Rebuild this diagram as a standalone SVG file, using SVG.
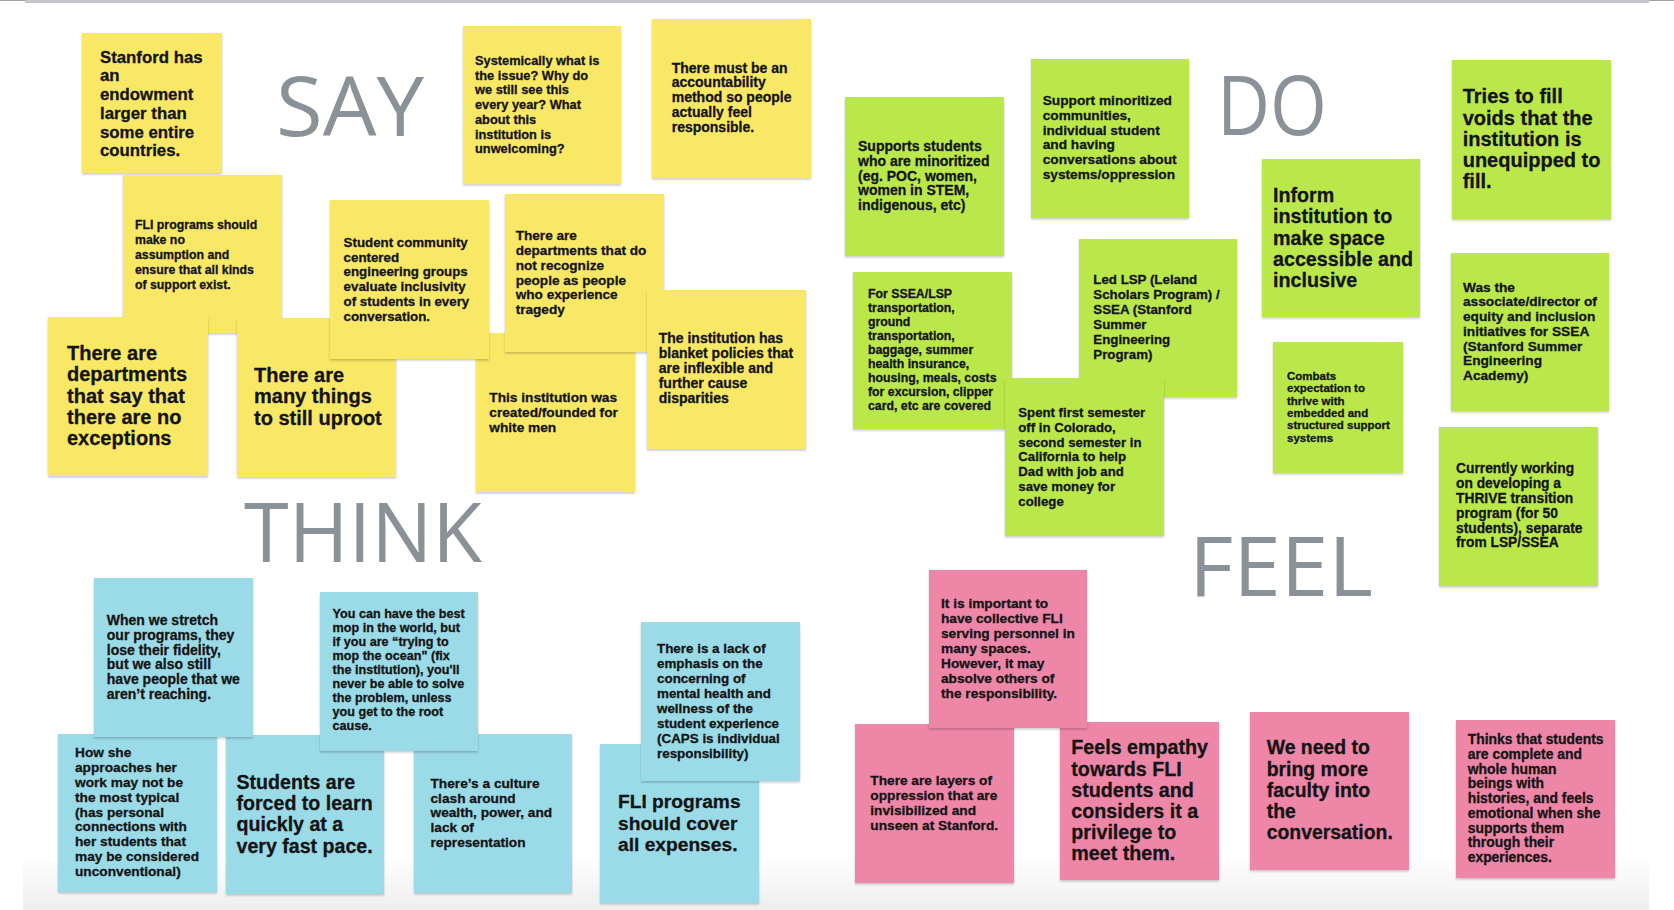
<svg xmlns="http://www.w3.org/2000/svg" width="1674" height="910" viewBox="0 0 1674 910">
  <defs>
    <filter id="sh" x="-5%" y="-5%" width="110%" height="115%">
      <feDropShadow dx="0" dy="1.5" stdDeviation="1.2" flood-color="#000" flood-opacity="0.22"/>
    </filter>
    <linearGradient id="floor" x1="0" y1="0" x2="0" y2="1">
      <stop offset="0" stop-color="#ffffff"/>
      <stop offset="1" stop-color="#eeeeee"/>
    </linearGradient>
    <style>
      .y { fill: #f9e866; filter: url(#sh); }
      .g { fill: #bae84b; filter: url(#sh); }
      .b { fill: #9bdbe8; filter: url(#sh); }
      .p { fill: #ee86a8; filter: url(#sh); }
      .t { font-family: "Liberation Sans", Arial, sans-serif; font-weight: 700; fill: #141414; stroke: #141414; stroke-width: 0.3px; }
      .h { font-family: "Open Sans", "Liberation Sans", sans-serif; font-weight: 400; fill: #8b9198; font-size: 83px; }
    </style>
  </defs>

  <!-- board background -->
  <rect x="0" y="0" width="1674" height="910" fill="#ffffff"/>
  <rect x="23" y="855" width="1626" height="55" fill="url(#floor)"/>
  <rect x="0" y="0" width="1674" height="1" fill="#9aa0a6"/>
  <rect x="25" y="0" width="1624" height="3" fill="#c3c7cc"/>

  <!-- quadrant headings -->
  <g id="headings">
    <text class="h" x="276" y="136" textLength="148" lengthAdjust="spacingAndGlyphs">SAY</text>
    <text class="h" x="1217" y="135" textLength="110" lengthAdjust="spacingAndGlyphs">DO</text>
    <text class="h" x="244" y="562" textLength="238" lengthAdjust="spacingAndGlyphs">THINK</text>
    <text class="h" x="1189" y="596" textLength="184" lengthAdjust="spacingAndGlyphs">FEEL</text>
  </g>

  <!-- SAY (yellow) -->
  <g id="say-1"><rect class="y" x="82" y="33" width="140" height="140"/>
    <text class="t" font-size="16.8" x="100" y="62.7"><tspan>Stanford has</tspan><tspan x="100" dy="18.7">an</tspan><tspan x="100" dy="18.7">endowment</tspan><tspan x="100" dy="18.7">larger than</tspan><tspan x="100" dy="18.7">some entire</tspan><tspan x="100" dy="18.7">countries.</tspan></text></g>
  <g id="say-2"><rect class="y" x="123" y="175" width="159" height="158"/>
    <text class="t" font-size="12.3" x="135" y="229.3"><tspan>FLI programs should</tspan><tspan x="135" dy="15">make no</tspan><tspan x="135" dy="15">assumption and</tspan><tspan x="135" dy="15">ensure that all kinds</tspan><tspan x="135" dy="15">of support exist.</tspan></text></g>
  <g id="say-3"><rect class="y" x="463" y="26" width="158" height="158"/>
    <text class="t" font-size="12.8" x="475" y="65"><tspan>Systemically what is</tspan><tspan x="475" dy="14.7">the issue? Why do</tspan><tspan x="475" dy="14.7">we still see this</tspan><tspan x="475" dy="14.7">every year? What</tspan><tspan x="475" dy="14.7">about this</tspan><tspan x="475" dy="14.7">institution is</tspan><tspan x="475" dy="14.7">unwelcoming?</tspan></text></g>
  <g id="say-4"><rect class="y" x="652" y="19" width="159" height="159"/>
    <text class="t" font-size="14" x="671.7" y="72.7"><tspan>There must be an</tspan><tspan x="671.7" dy="14.75">accountability</tspan><tspan x="671.7" dy="14.75">method so people</tspan><tspan x="671.7" dy="14.75">actually feel</tspan><tspan x="671.7" dy="14.75">responsible.</tspan></text></g>
  <g id="say-9"><rect class="y" x="476" y="333" width="159" height="159"/>
    <text class="t" font-size="13.7" x="489.3" y="401.7"><tspan>This institution was</tspan><tspan x="489.3" dy="15">created/founded for</tspan><tspan x="489.3" dy="15">white men</tspan></text></g>
  <g id="say-6"><rect class="y" x="505" y="194" width="159" height="158"/>
    <text class="t" font-size="13.6" x="515.7" y="240"><tspan>There are</tspan><tspan x="515.7" dy="14.87">departments that do</tspan><tspan x="515.7" dy="14.87">not recognize</tspan><tspan x="515.7" dy="14.87">people as people</tspan><tspan x="515.7" dy="14.87">who experience</tspan><tspan x="515.7" dy="14.87">tragedy</tspan></text></g>
  <g id="say-10"><rect class="y" x="647" y="290" width="159" height="159"/>
    <text class="t" font-size="14" x="658.7" y="343.3"><tspan>The institution has</tspan><tspan x="658.7" dy="14.85">blanket policies that</tspan><tspan x="658.7" dy="14.85">are inflexible and</tspan><tspan x="658.7" dy="14.85">further cause</tspan><tspan x="658.7" dy="14.85">disparities</tspan></text></g>
  <g id="say-8"><rect class="y" x="237" y="318" width="159" height="159"/>
    <text class="t" font-size="20" x="254" y="382"><tspan>There are</tspan><tspan x="254" dy="21.3">many things</tspan><tspan x="254" dy="21.3">to still uproot</tspan></text></g>
  <g id="say-5"><rect class="y" x="330" y="200" width="159" height="159"/>
    <text class="t" font-size="13.3" x="343.6" y="246.7"><tspan>Student community</tspan><tspan x="343.6" dy="14.8">centered</tspan><tspan x="343.6" dy="14.8">engineering groups</tspan><tspan x="343.6" dy="14.8">evaluate inclusivity</tspan><tspan x="343.6" dy="14.8">of students in every</tspan><tspan x="343.6" dy="14.8">conversation.</tspan></text></g>
  <g id="say-7"><rect class="y" x="48" y="317" width="160" height="159"/>
    <text class="t" font-size="20" x="67" y="360"><tspan>There are</tspan><tspan x="67" dy="21.25">departments</tspan><tspan x="67" dy="21.25">that say that</tspan><tspan x="67" dy="21.25">there are no</tspan><tspan x="67" dy="21.25">exceptions</tspan></text></g>

  <!-- DO (green) -->
  <g id="do-1"><rect class="g" x="845" y="97" width="159" height="159"/>
    <text class="t" font-size="14" x="858" y="150.7"><tspan>Supports students</tspan><tspan x="858" dy="14.9">who are minoritized</tspan><tspan x="858" dy="14.9">(eg. POC, women,</tspan><tspan x="858" dy="14.9">women in STEM,</tspan><tspan x="858" dy="14.9">indigenous, etc)</tspan></text></g>
  <g id="do-2"><rect class="g" x="1031" y="59" width="158" height="159"/>
    <text class="t" font-size="13.7" x="1042.7" y="104.7"><tspan>Support minoritized</tspan><tspan x="1042.7" dy="14.9">communities,</tspan><tspan x="1042.7" dy="14.9">individual student</tspan><tspan x="1042.7" dy="14.9">and having</tspan><tspan x="1042.7" dy="14.9">conversations about</tspan><tspan x="1042.7" dy="14.9">systems/oppression</tspan></text></g>
  <g id="do-3"><rect class="g" x="853" y="272" width="159" height="157"/>
    <text class="t" font-size="12.3" x="868" y="298.3"><tspan>For SSEA/LSP</tspan><tspan x="868" dy="13.9">transportation,</tspan><tspan x="868" dy="13.9">ground</tspan><tspan x="868" dy="13.9">transportation,</tspan><tspan x="868" dy="13.9">baggage, summer</tspan><tspan x="868" dy="13.9">health insurance,</tspan><tspan x="868" dy="13.9">housing, meals, costs</tspan><tspan x="868" dy="13.9">for excursion, clipper</tspan><tspan x="868" dy="13.9">card, etc are covered</tspan></text></g>
  <g id="do-4"><rect class="g" x="1079" y="239" width="158" height="158"/>
    <text class="t" font-size="13.3" x="1093.3" y="284.3"><tspan>Led LSP (Leland</tspan><tspan x="1093.3" dy="14.9">Scholars Program) /</tspan><tspan x="1093.3" dy="14.9">SSEA (Stanford</tspan><tspan x="1093.3" dy="14.9">Summer</tspan><tspan x="1093.3" dy="14.9">Engineering</tspan><tspan x="1093.3" dy="14.9">Program)</tspan></text></g>
  <g id="do-5"><rect class="g" x="1005" y="378" width="159" height="158"/>
    <text class="t" font-size="13.2" x="1018.3" y="416.7"><tspan>Spent first semester</tspan><tspan x="1018.3" dy="14.9">off in Colorado,</tspan><tspan x="1018.3" dy="14.9">second semester in</tspan><tspan x="1018.3" dy="14.9">California to help</tspan><tspan x="1018.3" dy="14.9">Dad with job and</tspan><tspan x="1018.3" dy="14.9">save money for</tspan><tspan x="1018.3" dy="14.9">college</tspan></text></g>
  <g id="do-6"><rect class="g" x="1262" y="159" width="158" height="158"/>
    <text class="t" font-size="19.7" x="1273" y="202"><tspan>Inform</tspan><tspan x="1273" dy="21.3">institution to</tspan><tspan x="1273" dy="21.3">make space</tspan><tspan x="1273" dy="21.3">accessible and</tspan><tspan x="1273" dy="21.3">inclusive</tspan></text></g>
  <g id="do-7"><rect class="g" x="1452" y="60" width="159" height="159"/>
    <text class="t" font-size="20" x="1462.7" y="103.3"><tspan>Tries to fill</tspan><tspan x="1462.7" dy="21.2">voids that the</tspan><tspan x="1462.7" dy="21.2">institution is</tspan><tspan x="1462.7" dy="21.2">unequipped to</tspan><tspan x="1462.7" dy="21.2">fill.</tspan></text></g>
  <g id="do-8"><rect class="g" x="1451" y="253" width="158" height="158"/>
    <text class="t" font-size="13.7" x="1463" y="291.7"><tspan>Was the</tspan><tspan x="1463" dy="14.7">associate/director of</tspan><tspan x="1463" dy="14.7">equity and inclusion</tspan><tspan x="1463" dy="14.7">initiatives for SSEA</tspan><tspan x="1463" dy="14.7">(Stanford Summer</tspan><tspan x="1463" dy="14.7">Engineering</tspan><tspan x="1463" dy="14.7">Academy)</tspan></text></g>
  <g id="do-9"><rect class="g" x="1273" y="342" width="130" height="131"/>
    <text class="t" font-size="11.5" x="1287" y="380"><tspan>Combats</tspan><tspan x="1287" dy="12.3">expectation to</tspan><tspan x="1287" dy="12.3">thrive with</tspan><tspan x="1287" dy="12.3">embedded and</tspan><tspan x="1287" dy="12.3">structured support</tspan><tspan x="1287" dy="12.3">systems</tspan></text></g>
  <g id="do-10"><rect class="g" x="1439" y="427" width="159" height="159"/>
    <text class="t" font-size="13.8" x="1456" y="473.3"><tspan>Currently working</tspan><tspan x="1456" dy="14.8">on developing a</tspan><tspan x="1456" dy="14.8">THRIVE transition</tspan><tspan x="1456" dy="14.8">program (for 50</tspan><tspan x="1456" dy="14.8">students), separate</tspan><tspan x="1456" dy="14.8">from LSP/SSEA</tspan></text></g>

  <!-- THINK (blue) -->
  <g id="think-3"><rect class="b" x="58" y="734" width="159" height="158"/>
    <text class="t" font-size="13.7" x="75" y="757.3"><tspan>How she</tspan><tspan x="75" dy="14.8">approaches her</tspan><tspan x="75" dy="14.8">work may not be</tspan><tspan x="75" dy="14.8">the most typical</tspan><tspan x="75" dy="14.8">(has personal</tspan><tspan x="75" dy="14.8">connections with</tspan><tspan x="75" dy="14.8">her students that</tspan><tspan x="75" dy="14.8">may be considered</tspan><tspan x="75" dy="14.8">unconventional)</tspan></text></g>
  <g id="think-4"><rect class="b" x="226" y="735" width="158" height="159"/>
    <text class="t" font-size="19.6" x="236.5" y="788.7"><tspan>Students are</tspan><tspan x="236.5" dy="21.3">forced to learn</tspan><tspan x="236.5" dy="21.3">quickly at a</tspan><tspan x="236.5" dy="21.3">very fast pace.</tspan></text></g>
  <g id="think-5"><rect class="b" x="414" y="734" width="158" height="159"/>
    <text class="t" font-size="13.7" x="430.5" y="787.7"><tspan>There’s a culture</tspan><tspan x="430.5" dy="14.8">clash around</tspan><tspan x="430.5" dy="14.8">wealth, power, and</tspan><tspan x="430.5" dy="14.8">lack of</tspan><tspan x="430.5" dy="14.8">representation</tspan></text></g>
  <g id="think-1"><rect class="b" x="94" y="578" width="159" height="159"/>
    <text class="t" font-size="14" x="106.8" y="625"><tspan>When we stretch</tspan><tspan x="106.8" dy="14.8">our programs, they</tspan><tspan x="106.8" dy="14.8">lose their fidelity,</tspan><tspan x="106.8" dy="14.8">but we also still</tspan><tspan x="106.8" dy="14.8">have people that we</tspan><tspan x="106.8" dy="14.8">aren’t reaching.</tspan></text></g>
  <g id="think-2"><rect class="b" x="320" y="592" width="158" height="159"/>
    <text class="t" font-size="12.6" x="332.6" y="618.3"><tspan>You can have the best</tspan><tspan x="332.6" dy="13.9">mop in the world, but</tspan><tspan x="332.6" dy="13.9">if you are “trying to</tspan><tspan x="332.6" dy="13.9">mop the ocean" (fix</tspan><tspan x="332.6" dy="13.9">the institution), you'll</tspan><tspan x="332.6" dy="13.9">never be able to solve</tspan><tspan x="332.6" dy="13.9">the problem, unless</tspan><tspan x="332.6" dy="13.9">you get to the root</tspan><tspan x="332.6" dy="13.9">cause.</tspan></text></g>
  <g id="think-7"><rect class="b" x="600" y="744" width="159" height="159"/>
    <text class="t" font-size="19.2" x="618" y="808.3"><tspan>FLI programs</tspan><tspan x="618" dy="21.3">should cover</tspan><tspan x="618" dy="21.3">all expenses.</tspan></text></g>
  <g id="think-6"><rect class="b" x="641" y="622" width="159" height="159"/>
    <text class="t" font-size="13.4" x="657" y="653.3"><tspan>There is a lack of</tspan><tspan x="657" dy="14.9">emphasis on the</tspan><tspan x="657" dy="14.9">concerning of</tspan><tspan x="657" dy="14.9">mental health and</tspan><tspan x="657" dy="14.9">wellness of the</tspan><tspan x="657" dy="14.9">student experience</tspan><tspan x="657" dy="14.9">(CAPS is individual</tspan><tspan x="657" dy="14.9">responsibility)</tspan></text></g>

  <!-- FEEL (pink) -->
  <g id="feel-2"><rect class="p" x="855" y="724" width="159" height="159"/>
    <text class="t" font-size="13.7" x="870.3" y="785"><tspan>There are layers of</tspan><tspan x="870.3" dy="14.9">oppression that are</tspan><tspan x="870.3" dy="14.9">invisibilized and</tspan><tspan x="870.3" dy="14.9">unseen at Stanford.</tspan></text></g>
  <g id="feel-3"><rect class="p" x="1060" y="722" width="159" height="158"/>
    <text class="t" font-size="19.7" x="1071.3" y="754.3"><tspan>Feels empathy</tspan><tspan x="1071.3" dy="21.2">towards FLI</tspan><tspan x="1071.3" dy="21.2">students and</tspan><tspan x="1071.3" dy="21.2">considers it a</tspan><tspan x="1071.3" dy="21.2">privilege to</tspan><tspan x="1071.3" dy="21.2">meet them.</tspan></text></g>
  <g id="feel-1"><rect class="p" x="929" y="570" width="158" height="158"/>
    <text class="t" font-size="13.7" x="941" y="608.3"><tspan>It is important to</tspan><tspan x="941" dy="14.9">have collective FLI</tspan><tspan x="941" dy="14.9">serving personnel in</tspan><tspan x="941" dy="14.9">many spaces.</tspan><tspan x="941" dy="14.9">However, it may</tspan><tspan x="941" dy="14.9">absolve others of</tspan><tspan x="941" dy="14.9">the responsibility.</tspan></text></g>
  <g id="feel-4"><rect class="p" x="1250" y="712" width="159" height="158"/>
    <text class="t" font-size="19.4" x="1266.7" y="754.3"><tspan>We need to</tspan><tspan x="1266.7" dy="21.2">bring more</tspan><tspan x="1266.7" dy="21.2">faculty into</tspan><tspan x="1266.7" dy="21.2">the</tspan><tspan x="1266.7" dy="21.2">conversation.</tspan></text></g>
  <g id="feel-5"><rect class="p" x="1456" y="720" width="159" height="158"/>
    <text class="t" font-size="13.9" x="1467.7" y="744"><tspan>Thinks that students</tspan><tspan x="1467.7" dy="14.75">are complete and</tspan><tspan x="1467.7" dy="14.75">whole human</tspan><tspan x="1467.7" dy="14.75">beings with</tspan><tspan x="1467.7" dy="14.75">histories, and feels</tspan><tspan x="1467.7" dy="14.75">emotional when she</tspan><tspan x="1467.7" dy="14.75">supports them</tspan><tspan x="1467.7" dy="14.75">through their</tspan><tspan x="1467.7" dy="14.75">experiences.</tspan></text></g>

  <!-- no connectors on this board -->
  <g id="connectors"/>
</svg>
